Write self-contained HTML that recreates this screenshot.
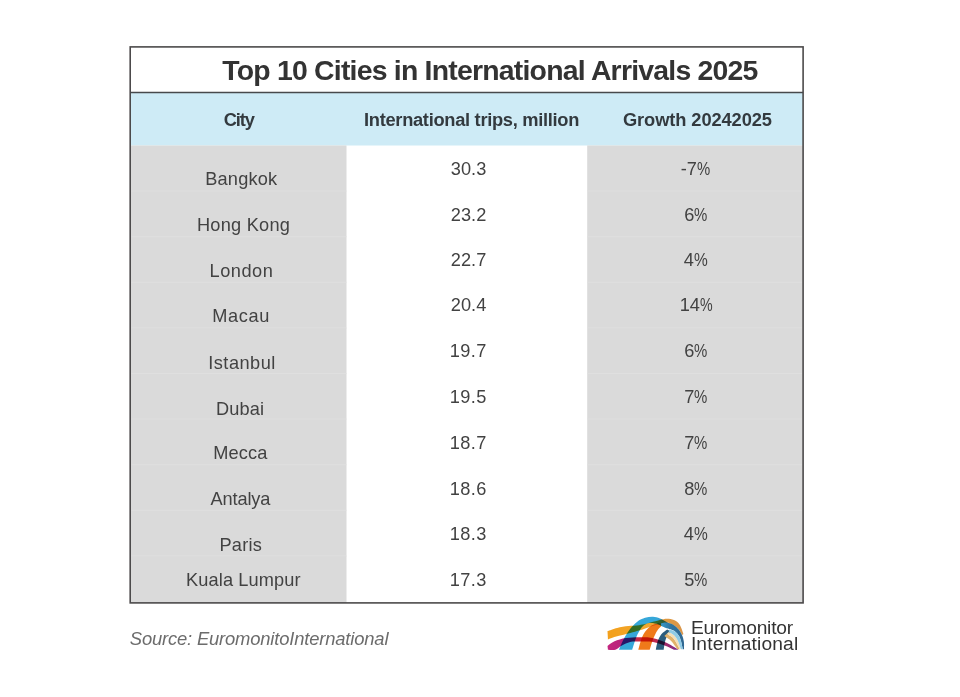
<!DOCTYPE html>
<html lang="en">
<head>
<meta charset="utf-8">
<title>Top 10 Cities in International Arrivals 2025</title>
<style>
html,body{margin:0;padding:0;background:#fff;}
body{width:960px;height:697px;position:relative;overflow:hidden;font-family:"Liberation Sans", sans-serif;}
.t{position:absolute;white-space:nowrap;margin:0;padding:0;}
.bg{position:absolute;}
.p{display:inline-block;transform-origin:0 50%;}
#page{position:absolute;left:0;top:0;width:960px;height:697px;filter:blur(0.45px);}
</style>
</head>
<body>
<div id="page">
<svg class="bg" style="left:0;top:0" width="960" height="697" viewBox="0 0 960 697">
<rect x="130.2" y="92.5" width="672.9" height="53" fill="#ceebf6"/>
<rect x="130.2" y="145.5" width="216.3" height="457.4" fill="#dadada"/>
<rect x="587.2" y="145.5" width="215.9" height="457.4" fill="#dadada"/>
<g stroke="#dfdfdf" stroke-width="0.8" fill="none">
<path d="M131.2 191.1H346.5M587.2 191.1H802.1"/>
<path d="M131.2 236.7H346.5M587.2 236.7H802.1"/>
<path d="M131.2 282.3H346.5M587.2 282.3H802.1"/>
<path d="M131.2 327.9H346.5M587.2 327.9H802.1"/>
<path d="M131.2 373.5H346.5M587.2 373.5H802.1"/>
<path d="M131.2 419.1H346.5M587.2 419.1H802.1"/>
<path d="M131.2 464.7H346.5M587.2 464.7H802.1"/>
<path d="M131.2 510.3H346.5M587.2 510.3H802.1"/>
<path d="M131.2 555.9H346.5M587.2 555.9H802.1"/>
</g>
<rect x="130.2" y="46.9" width="672.9" height="556" fill="none" stroke="#4c4a4b" stroke-width="1.6"/>
<line x1="130.2" y1="92.5" x2="803.1" y2="92.5" stroke="#47494c" stroke-width="1.5"/>
</svg>
<h1 class="t" style="left:222.25px;top:56.00px;font-size:28.4px;line-height:28.4px;letter-spacing:-0.779px;color:#333;font-weight:700;">Top 10 Cities in International Arrivals 2025</h1>
<div class="t" style="left:223.70px;top:111.00px;font-size:18.3px;line-height:18.3px;letter-spacing:-1.123px;color:#333a3f;font-weight:700;">City</div>
<div class="t" style="left:364.00px;top:111.00px;font-size:18.3px;line-height:18.3px;letter-spacing:-0.298px;color:#333a3f;font-weight:700;">International trips, million</div>
<div class="t" style="left:623.00px;top:111.00px;font-size:18.3px;line-height:18.3px;letter-spacing:-0.105px;color:#333a3f;font-weight:700;">Growth 20242025</div>
<div class="t" style="left:205.25px;top:170.00px;font-size:18.2px;line-height:18.2px;letter-spacing:0.178px;color:#424242;">Bangkok</div>
<div class="t" style="left:197.00px;top:216.00px;font-size:18.2px;line-height:18.2px;letter-spacing:0.232px;color:#424242;">Hong Kong</div>
<div class="t" style="left:209.50px;top:262.00px;font-size:18.2px;line-height:18.2px;letter-spacing:0.535px;color:#424242;">London</div>
<div class="t" style="left:212.25px;top:307.00px;font-size:18.2px;line-height:18.2px;letter-spacing:0.631px;color:#424242;">Macau</div>
<div class="t" style="left:208.25px;top:354.00px;font-size:18.2px;line-height:18.2px;letter-spacing:0.477px;color:#424242;">Istanbul</div>
<div class="t" style="left:216.00px;top:400.00px;font-size:18.2px;line-height:18.2px;letter-spacing:0.130px;color:#424242;">Dubai</div>
<div class="t" style="left:213.25px;top:444.00px;font-size:18.2px;line-height:18.2px;letter-spacing:0.137px;color:#424242;">Mecca</div>
<div class="t" style="left:210.50px;top:490.00px;font-size:18.2px;line-height:18.2px;letter-spacing:-0.133px;color:#424242;">Antalya</div>
<div class="t" style="left:219.50px;top:536.00px;font-size:18.2px;line-height:18.2px;letter-spacing:0.227px;color:#424242;">Paris</div>
<div class="t" style="left:186.00px;top:571.00px;font-size:18.2px;line-height:18.2px;letter-spacing:0.120px;color:#424242;">Kuala Lumpur</div>
<div class="t" style="left:450.75px;top:160.00px;font-size:18.2px;line-height:18.2px;letter-spacing:0.072px;color:#424242;">30.3</div>
<div class="t" style="left:450.75px;top:206.00px;font-size:18.2px;line-height:18.2px;letter-spacing:0.072px;color:#424242;">23.2</div>
<div class="t" style="left:450.75px;top:251.00px;font-size:18.2px;line-height:18.2px;letter-spacing:0.072px;color:#424242;">22.7</div>
<div class="t" style="left:450.75px;top:296.00px;font-size:18.2px;line-height:18.2px;letter-spacing:0.072px;color:#424242;">20.4</div>
<div class="t" style="left:449.75px;top:342.00px;font-size:18.2px;line-height:18.2px;letter-spacing:0.406px;color:#424242;">19.7</div>
<div class="t" style="left:449.75px;top:388.00px;font-size:18.2px;line-height:18.2px;letter-spacing:0.406px;color:#424242;">19.5</div>
<div class="t" style="left:449.75px;top:434.00px;font-size:18.2px;line-height:18.2px;letter-spacing:0.406px;color:#424242;">18.7</div>
<div class="t" style="left:449.75px;top:480.00px;font-size:18.2px;line-height:18.2px;letter-spacing:0.406px;color:#424242;">18.6</div>
<div class="t" style="left:449.75px;top:525.00px;font-size:18.2px;line-height:18.2px;letter-spacing:0.406px;color:#424242;">18.3</div>
<div class="t" style="left:449.75px;top:571.00px;font-size:18.2px;line-height:18.2px;letter-spacing:0.406px;color:#424242;">17.3</div>
<div class="t" style="left:680.75px;top:160.00px;font-size:18.2px;line-height:18.2px;color:#424242;">-7<span class="p" style="transform:scaleX(0.817);margin-left:0.00px">%</span></div>
<div class="t" style="left:684.25px;top:206.00px;font-size:18.2px;line-height:18.2px;color:#424242;">6<span class="p" style="transform:scaleX(0.821);margin-left:0.00px">%</span></div>
<div class="t" style="left:683.75px;top:251.00px;font-size:18.2px;line-height:18.2px;color:#424242;">4<span class="p" style="transform:scaleX(0.852);margin-left:0.00px">%</span></div>
<div class="t" style="left:679.75px;top:296.00px;font-size:18.2px;line-height:18.2px;color:#424242;">14<span class="p" style="transform:scaleX(0.782);margin-left:0.00px">%</span></div>
<div class="t" style="left:684.25px;top:342.00px;font-size:18.2px;line-height:18.2px;color:#424242;">6<span class="p" style="transform:scaleX(0.821);margin-left:0.00px">%</span></div>
<div class="t" style="left:684.25px;top:388.00px;font-size:18.2px;line-height:18.2px;color:#424242;">7<span class="p" style="transform:scaleX(0.821);margin-left:0.00px">%</span></div>
<div class="t" style="left:684.25px;top:434.00px;font-size:18.2px;line-height:18.2px;color:#424242;">7<span class="p" style="transform:scaleX(0.821);margin-left:0.00px">%</span></div>
<div class="t" style="left:684.25px;top:480.00px;font-size:18.2px;line-height:18.2px;color:#424242;">8<span class="p" style="transform:scaleX(0.821);margin-left:0.00px">%</span></div>
<div class="t" style="left:683.75px;top:525.00px;font-size:18.2px;line-height:18.2px;color:#424242;">4<span class="p" style="transform:scaleX(0.852);margin-left:0.00px">%</span></div>
<div class="t" style="left:684.25px;top:571.00px;font-size:18.2px;line-height:18.2px;color:#424242;">5<span class="p" style="transform:scaleX(0.821);margin-left:0.00px">%</span></div>
<p class="t" style="left:129.80px;top:630.00px;font-size:18.4px;line-height:18.4px;letter-spacing:-0.169px;color:#6c6c6c;font-style:italic;">Source: EuromonitoInternational</p>
<div class="t" style="left:690.90px;top:618.00px;font-size:19.2px;line-height:19.2px;letter-spacing:-0.232px;color:#333;">Euromonitor</div>
<div class="t" style="left:690.90px;top:634.00px;font-size:19.2px;line-height:19.2px;letter-spacing:0.138px;color:#333;">International</div>
<svg class="bg" style="left:604px;top:612px;filter:blur(0.35px)" width="84" height="42" viewBox="0 0 960 480">
<defs>
<linearGradient id="gm" x1="40" y1="0" x2="850" y2="0" gradientUnits="userSpaceOnUse">
<stop offset="0" stop-color="#c4267f"/><stop offset="0.3" stop-color="#b0207a"/><stop offset="0.5" stop-color="#d62a2a"/><stop offset="0.68" stop-color="#c02a50"/><stop offset="1" stop-color="#7a2a8a"/>
</linearGradient>
<linearGradient id="gb" x1="170" y1="0" x2="900" y2="0" gradientUnits="userSpaceOnUse">
<stop offset="0" stop-color="#1599d3"/><stop offset="0.6" stop-color="#1599d3"/><stop offset="0.8" stop-color="#0d5f92"/><stop offset="1" stop-color="#0c4f80"/>
</linearGradient>
<linearGradient id="ga" x1="40" y1="0" x2="900" y2="0" gradientUnits="userSpaceOnUse">
<stop offset="0" stop-color="#f3a01c"/><stop offset="0.55" stop-color="#f2a830"/><stop offset="0.75" stop-color="#e09a40"/><stop offset="1" stop-color="#d9954a"/>
</linearGradient>
</defs>
<g style="isolation:isolate">
<path fill="url(#ga)" d="M40,218 C58,212 110,192 150,182 C190,172 238,165 280,160 C322,155 367,154 400,150 C433,146 453,141 480,135 C507,129 533,120 560,112 C587,104 613,96 640,90 C667,84 693,76 720,76 C747,76 776,80 800,92 C824,104 847,119 865,145 C883,171 901,232 908,250 L893,262 C887,252 872,219 856,200 C840,181 823,163 800,150 C777,137 745,123 720,120 C695,117 677,124 650,130 C623,136 588,149 560,158 C532,167 507,176 480,185 C453,194 430,203 400,212 C370,221 342,229 300,240 C258,251 192,266 150,278 C108,290 62,308 45,314 Z"/>
<path fill="url(#gb)" opacity="0.86" style="mix-blend-mode:multiply" d="M170,432 C180,410 208,340 230,300 C252,260 275,222 300,190 C325,158 352,131 380,110 C408,89 440,75 470,66 C500,57 532,54 560,55 C588,56 613,64 640,75 C667,86 693,106 720,118 C747,130 778,136 800,150 C822,164 839,182 854,200 C869,218 880,237 890,260 C900,283 909,312 913,340 C917,368 914,411 914,425 L900,425 C897,411 889,365 882,340 C875,315 869,294 858,275 C847,256 831,238 815,225 C799,212 779,206 760,198 C741,190 723,189 700,180 C677,171 647,151 620,142 C593,133 565,126 540,126 C515,126 490,131 470,142 C450,153 437,166 420,190 C403,214 386,245 370,285 C354,325 330,408 322,432 Z"/>
<path fill="#ef7a1a" style="mix-blend-mode:multiply" d="M392,432 C397,415 409,362 420,330 C431,298 443,266 460,240 C477,214 500,189 520,172 C540,155 558,147 580,140 C602,133 638,130 650,128 L655,160 C648,168 625,187 610,210 C595,233 580,263 565,300 C550,337 529,410 522,432 Z"/>
<path fill="#2b5d7d" style="mix-blend-mode:multiply" d="M592,432 C595,417 602,370 612,340 C622,310 637,278 655,255 C673,232 711,209 722,200 L765,224 C758,232 734,254 722,275 C710,296 702,324 695,350 C688,376 684,418 682,432 Z"/>
<path fill="url(#gm)" style="mix-blend-mode:multiply" d="M40,388 C53,379 85,350 120,335 C155,320 203,306 250,298 C297,290 350,288 400,288 C450,288 500,286 550,296 C600,306 650,323 700,345 C750,367 827,416 852,430 L800,430 C783,423 740,401 700,386 C660,371 610,350 560,342 C510,334 445,338 400,338 C355,338 323,337 290,345 C257,353 227,370 200,385 C173,400 156,424 130,432 C104,440 59,432 45,432 Z"/>
<path fill="#e2b26a" d="M715,250 C724,255 753,267 770,280 C787,293 799,306 815,330 C831,354 858,409 866,425 L838,425 C827,410 790,357 770,335 C750,313 733,305 720,295 C707,285 695,278 690,275 Z"/>
<path fill="#f3dfb8" d="M740,228 C750,234 782,248 800,265 C818,282 832,303 845,330 C858,357 874,409 880,425 L866,425 C858,409 831,354 815,330 C799,306 787,293 770,280 C753,267 724,255 715,250 Z"/>
<path fill="#8fcbe6" d="M745,200 C757,204 796,212 815,225 C834,238 847,256 858,275 C869,294 875,315 882,340 C889,365 897,411 900,425 L880,425 C874,409 858,357 845,330 C832,303 818,282 800,265 C782,248 750,234 740,228 Z"/>
</g>
</svg>
</div>
</body>
</html>
